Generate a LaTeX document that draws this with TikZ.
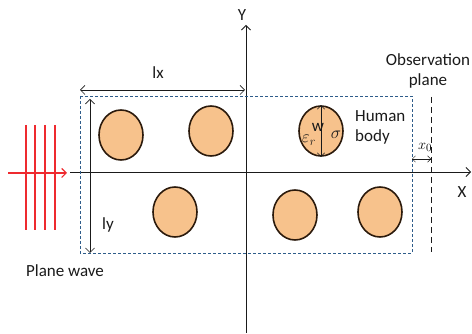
\documentclass[tikz,border=0pt]{standalone}
\usepackage{fontspec}
\setmainfont{Carlito}
\usepackage{tikz}
\usetikzlibrary{arrows.meta,shapes.geometric}
\definecolor{INK}{HTML}{1A1A1A}
\definecolor{SKIN}{HTML}{F7C28C}
\definecolor{RIM}{HTML}{2B1A0C}
\definecolor{BOXBLUE}{HTML}{2E5C8A}
\definecolor{WAVE}{HTML}{EE2A2F}

\begin{document}
\begin{tikzpicture}[x=1pt,y=-1pt]
\tikzset{axisline/.style={-{Straight Barb[length=1.6mm]},thick,INK},
 dimarr/.style={{Straight Barb[length=1.6mm]}-{Straight Barb[length=1.6mm]},semithick,INK},
 body/.style={ellipse,draw=RIM,line width=1.6pt,fill=SKIN,minimum width=44pt,minimum height=50pt,inner sep=0pt},
 lbl/.style={font=\fontsize{17}{20}\selectfont,text=INK,inner sep=0pt},
 sym/.style={font=\fontsize{17}{19}\selectfont,text=INK,inner sep=0pt},
 wave/.style={draw=WAVE,line width=1.1pt}}
\useasboundingbox (0,0) rectangle (472,334);
% axes
\coordinate (xs) at (70,172);\coordinate (xe) at (471,172);
\coordinate (ys) at (246,333);\coordinate (ye) at (246,25);
\draw[axisline] (xs)--(xe);
\draw[axisline] (ys)--(ye);
\node[lbl] (ylab) at (242,15) {Y};
\node[lbl] (xlab) at (462,192) {X};
% region of bodies
\draw[BOXBLUE,densely dashed,thin] (80,96) rectangle (412,253);
\node[body] (b1) at (121,135) {};
\node[body] (b2) at (211,131) {};
\node[body] (b3) at (321,131) {};
\node[body] (b4) at (175,212) {};
\node[body] (b5) at (295,215) {};
\node[body] (b6) at (380,212) {};
\draw[{Straight Barb[length=1.3mm]}-{Straight Barb[length=1.3mm]},thin,INK] (b3.north)--(b3.south);
\node[lbl] (wlab) at (318,127) {w};
\node[sym] (erlab) at (309,140) {$\varepsilon_r$};
\node[sym] (siglab) at (336,135) {$\sigma$};
\node[lbl,align=left,anchor=west] (hb) at (355,127) {Human\\body};
% dimensions
\coordinate (lxa) at (80,90);\coordinate (lxb) at (245,90);
\draw[dimarr] (lxa)--(lxb);
\node[lbl] (lxlab) at (158,73) {lx};
\coordinate (lya) at (90,99);\coordinate (lyb) at (90,253);
\draw[dimarr] (lya)--(lyb);
\node[lbl] (lylab) at (108,225) {ly};
% observation plane
\coordinate (opa) at (431,97);\coordinate (opb) at (431,252);
\draw[INK,semithick,dash pattern=on 6pt off 4pt] (opa)--(opb);
\node[lbl,align=center] (oplab) at (428,71) {Observation\\plane};
\coordinate (x0a) at (412,159);\coordinate (x0b) at (431,159);
\draw[{Straight Barb[length=1.1mm]}-{Straight Barb[length=1.1mm]},thin,INK] (x0a)--(x0b);
\node[font=\fontsize{15}{17}\selectfont,inner sep=0pt] (x0lab) at (425,147) {$x_0$};
% plane wave
\foreach \x in {26,35,45,55}{\draw[wave] (\x,125)--(\x,230);}
\coordinate (wa) at (8,173);\coordinate (wb) at (67,173);
\draw[wave,-{Straight Barb[length=1.6mm]}] (wa)--(wb);
\node[lbl] (pwlab) at (65,271) {Plane wave};
\end{tikzpicture}
\end{document}
